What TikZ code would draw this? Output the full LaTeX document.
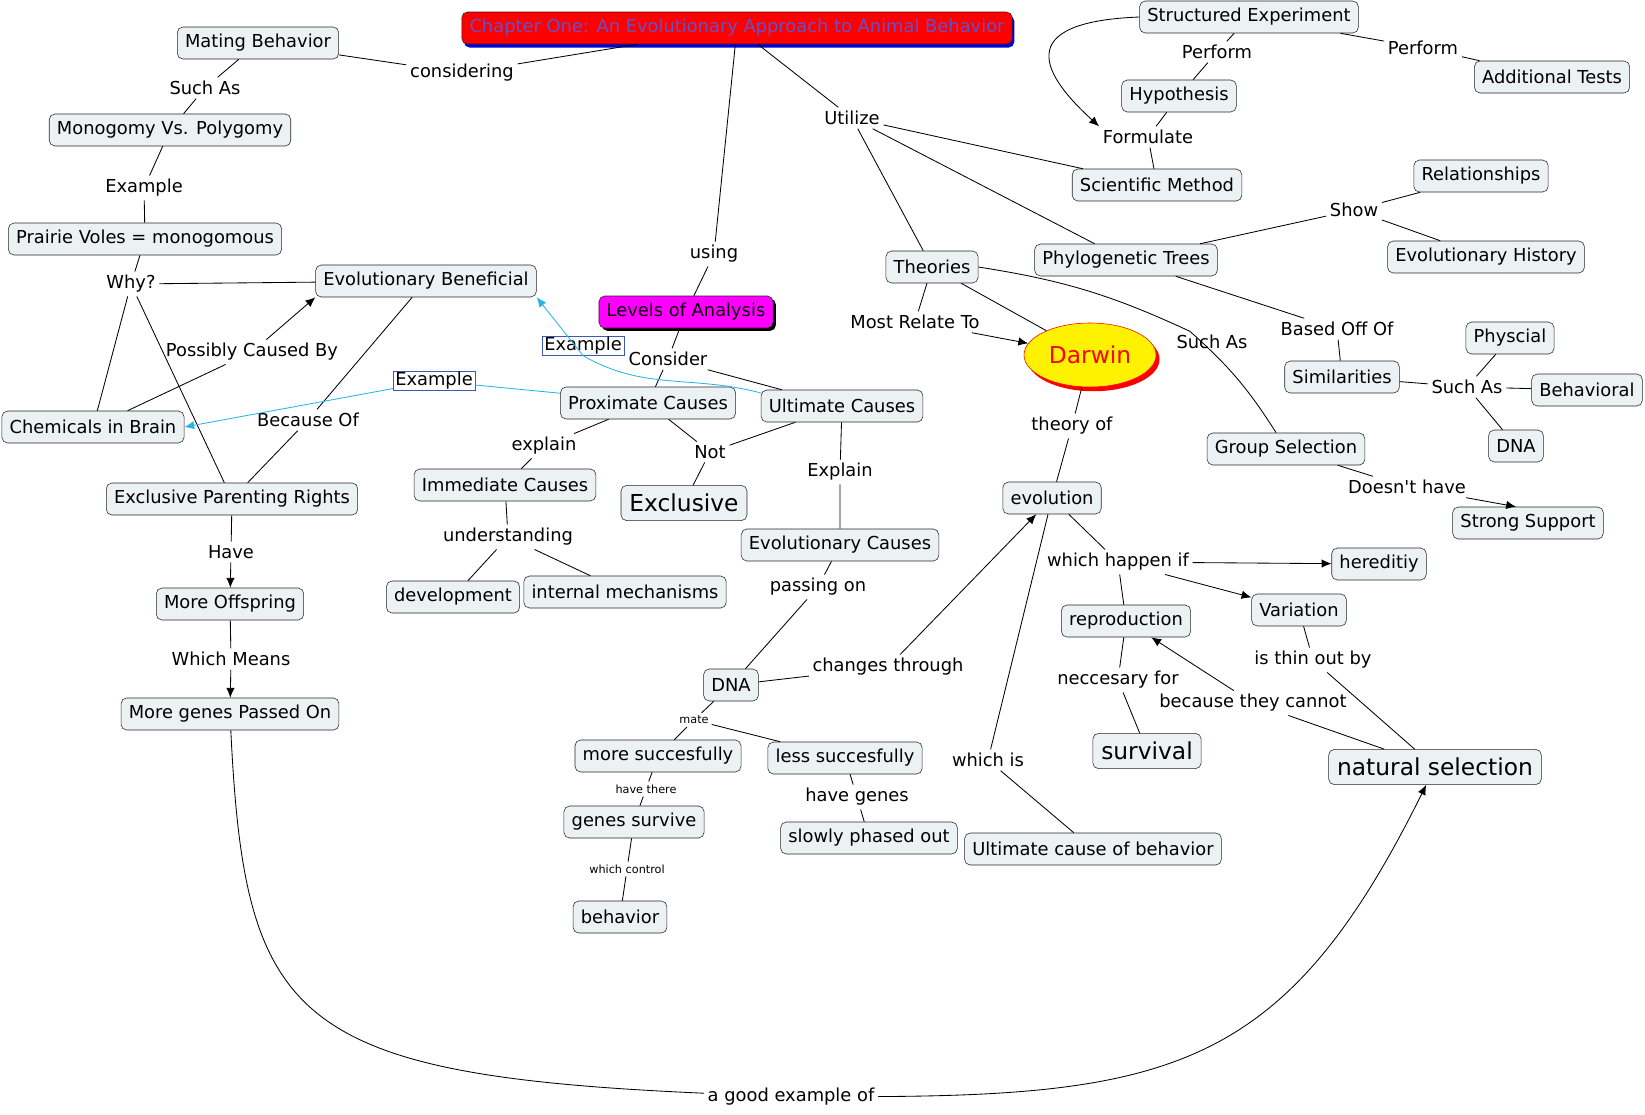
\documentclass[tikz,border=0pt]{standalone}
\usepackage{fontspec}
\setmainfont{DejaVu Sans}
\usetikzlibrary{arrows.meta, positioning, shapes.geometric, shadows, calc}
\definecolor{boxfill}{RGB}{236,242,244}
\definecolor{titletext}{RGB}{104,80,200}
\definecolor{levelfill}{RGB}{255,0,255}
\definecolor{exblue}{RGB}{60,90,180}
\definecolor{excyan}{RGB}{40,180,230}
\tikzset{
    cbox/.style={rectangle, draw=black!85, rounded corners=4pt, fill=boxfill, inner xsep=5.5pt, inner ysep=2pt, minimum height=0.8cm, font=\fontsize{12.7}{15}\selectfont},
    bigbox/.style={cbox, minimum height=0.88cm, inner xsep=6pt, font=\fontsize{16.6}{19}\selectfont},
    lword/.style={inner sep=2.5pt, font=\fontsize{12.7}{15}\selectfont},
    sword/.style={inner sep=2pt, font=\fontsize{8}{10}\selectfont},
    exbox/.style={rectangle, draw=exblue, fill=white, inner xsep=1.5pt, inner ysep=0.5pt, font=\fontsize{12.7}{15}\selectfont},
    cline/.style={draw=black, line width=0.6pt},
    arrow/.style={cline, -{Latex[length=7pt, width=6pt]}},
    exarrow/.style={draw=excyan, line width=0.6pt, -{Latex[length=7pt, width=6pt]}}
}
\begin{document}
\begin{tikzpicture}[x=0.025cm, y=-0.025cm]
\useasboundingbox (0,0) rectangle (1645,1114);

\node (title) [cbox, fill=red, text=titletext, drop shadow={shadow xshift=1.5pt, shadow yshift=-2.5pt, fill=blue!85!black, opacity=1}] at (737,28) {Chapter One: An Evolutionary Approach to Animal Behavior};
\node (levels) [cbox, fill=levelfill, drop shadow={shadow xshift=2pt, shadow yshift=-2pt, fill=black, opacity=1}] at (686,312) {Levels of Analysis};
\node (darwin) [ellipse, draw=red, fill=yellow, text=red, minimum width=3.3cm, minimum height=1.6cm, font=\fontsize{16.6}{19}\selectfont, drop shadow={shadow xshift=2.5pt, shadow yshift=-3pt, fill=red, opacity=1}] at (1090,355) {Darwin};

\node (matb) [cbox] at (258,43) {Mating Behavior};
\node (mono) [cbox] at (170,130) {Monogomy Vs. Polygomy};
\node (voles) [cbox] at (145,239) {Prairie Voles = monogomous};
\node (evoben) [cbox] at (426,281) {Evolutionary Beneficial};
\node (chem) [cbox] at (93,427) {Chemicals in Brain};
\node (excpar) [cbox] at (232,499) {Exclusive Parenting Rights};
\node (moreoff) [cbox] at (230,604) {More Offspring};
\node (moregen) [cbox] at (230,714) {More genes Passed On};
\node (immc) [cbox] at (505,485) {Immediate Causes};
\node (devel) [cbox] at (453,597) {development};
\node (intmech) [cbox] at (625,592) {internal mechanisms};
\node (proxc) [cbox] at (648,403) {Proximate Causes};
\node (ultc) [cbox] at (842,406) {Ultimate Causes};
\node (exclus) [bigbox] at (684,503) {Exclusive};
\node (evoc) [cbox] at (840,545) {Evolutionary Causes};
\node (dnaL) [cbox] at (731,685) {DNA};
\node (moresuc) [cbox] at (658,756) {more succesfully};
\node (lesssuc) [cbox] at (845,758) {less succesfully};
\node (genesurv) [cbox] at (634,822) {genes survive};
\node (slowph) [cbox] at (869,838) {slowly phased out};
\node (behav) [cbox] at (620,917) {behavior};
\node (ultbeh) [cbox] at (1093,849) {Ultimate cause of behavior};
\node (theories) [cbox] at (932,267) {Theories};
\node (evol) [cbox] at (1052,498) {evolution};
\node (repro) [cbox] at (1126,621) {reproduction};
\node (variat) [cbox] at (1299,610) {Variation};
\node (hered) [cbox] at (1379,564) {hereditiy};
\node (surv) [bigbox] at (1147,751) {survival};
\node (natsel) [bigbox] at (1435,767) {natural selection};
\node (sexp) [cbox] at (1249,17) {Structured Experiment};
\node (addt) [cbox] at (1552,77) {Additional Tests};
\node (hypo) [cbox] at (1179,96) {Hypothesis};
\node (scim) [cbox] at (1157,185) {Scientific Method};
\node (relat) [cbox] at (1481,176) {Relationships};
\node (evohist) [cbox] at (1486,257) {Evolutionary History};
\node (phylo) [cbox] at (1126,260) {Phylogenetic Trees};
\node (simil) [cbox] at (1342,377) {Similarities};
\node (phys) [cbox] at (1510,338) {Physcial};
\node (behavr) [cbox] at (1587,390) {Behavioral};
\node (dnaR) [cbox] at (1516,446) {DNA};
\node (grpsel) [cbox] at (1286,449) {Group Selection};
\node (strsup) [cbox] at (1528,523) {Strong Support};

\node (ex1) [exbox] at (434,381) {Example};
\node (ex2) [exbox] at (583,346) {Example};

\node (lconsid) [lword] at (462,73) {considering};
\node (lsuch1) [lword] at (205,88) {Such As};
\node (lexam) [lword] at (144,188) {Example};
\node (lwhy) [lword] at (131,284) {Why?};
\node (lposs) [lword] at (252,352) {Possibly Caused By};
\node (lbecause) [lword] at (308,420) {Because Of};
\node (lhave) [lword] at (231,552) {Have};
\node (lmeans) [lword] at (231,659) {Which Means};
\node (lexpl) [lword] at (544,446) {explain};
\node (lunder) [lword] at (508,537) {understanding};
\node (lusing) [lword] at (714,254) {using};
\node (lconsider) [lword] at (668,359) {Consider};
\node (lnot) [lword] at (710,452) {Not};
\node (lExplain) [lword] at (840,472) {Explain};
\node (lpass) [lword] at (818,587) {passing on};
\node (lchanges) [lword] at (888,667) {changes through};
\node (lhavegenes) [lword] at (857,797) {have genes};
\node (lwhichis) [lword] at (988,760) {which is};
\node (lgood) [lword] at (791,1097) {a good example of};
\node (lutil) [lword] at (852,118) {Utilize};
\node (lmost) [lword] at (915,322) {Most Relate To};
\node (lsuch2) [lword] at (1212,342) {Such As};
\node (ltheory) [lword] at (1072,426) {theory of};
\node (lhappen) [lword] at (1118,562) {which happen if};
\node (lneccs) [lword] at (1118,680) {neccesary for};
\node (lthin) [lword] at (1313,660) {is thin out by};
\node (lbecause2) [lword] at (1253,703) {because they cannot};
\node (lperf1) [lword] at (1217,52) {Perform};
\node (lperf2) [lword] at (1423,48) {Perform};
\node (lform) [lword] at (1148,137) {Formulate};
\node (lshow) [lword] at (1354,210) {Show};
\node (lbased) [lword] at (1337,329) {Based Off Of};
\node (lsuch3) [lword] at (1467,387) {Such As};
\node (ldoesnt) [lword] at (1407,487) {Doesn\textquotesingle t have};
\node (lmate) [sword] at (694,720) {mate};
\node (lhavethere) [sword] at (646,789) {have there};
\node (lwhichctl) [sword] at (627,869) {which control};

\draw [cline] (title) -- (lconsid) -- (matb);
\draw [cline] (matb) -- (lsuch1) -- (mono);
\draw [cline] (mono) -- (lexam) -- (voles);
\draw [cline] (voles) -- (lwhy) -- (evoben);
\draw [cline] (lwhy) -- (chem);
\draw [cline] (lwhy) -- (excpar);
\draw [cline] (evoben) -- (lbecause) -- (excpar);
\draw [cline] (chem) -- (lposs);
\draw [arrow] (lposs) -- (evoben.south west);
\draw [cline] (excpar) -- (lhave);
\draw [arrow] (lhave) -- (moreoff);
\draw [cline] (moreoff) -- (lmeans);
\draw [arrow] (lmeans) -- (moregen);
\draw [arrow] (moregen) .. controls (245,1020) and (290,1075) .. (lgood) .. controls (1180,1095) and (1290,1060) .. (natsel);

\draw [cline] (title) -- (lusing) -- (levels);
\draw [cline] (levels) -- (lconsider) -- (proxc);
\draw [cline] (lconsider) -- (ultc);
\draw [cline] (proxc) -- (lexpl) -- (immc);
\draw [cline] (immc) -- (lunder) -- (devel);
\draw [cline] (lunder) -- (intmech);
\draw [cline] (proxc) -- (lnot) -- (exclus);
\draw [cline] (ultc) -- (lnot);
\draw [cline] (ultc) -- (lExplain) -- (evoc);
\draw [cline] (evoc) -- (lpass) -- (dnaL) -- (lchanges);
\draw [arrow] (lchanges) -- (evol);
\draw [cline] (dnaL) -- (lmate) -- (moresuc);
\draw [cline] (lmate) -- (lesssuc);
\draw [cline] (moresuc) -- (lhavethere) -- (genesurv) -- (lwhichctl) -- (behav);
\draw [cline] (lesssuc) -- (lhavegenes) -- (slowph);
\draw [exarrow] ($(proxc.west)!.6!(proxc.north west)$) -- (ex1) -- (chem.east);
\draw [exarrow] ($(ultc.west)!.8!(ultc.north west)$) to[out=165, in=-30] (ex2.south) -- (evoben.south east);

\draw [cline] (title) -- (lutil) -- (scim);
\draw [cline] (lutil) -- (phylo);
\draw [cline] (lutil) -- (theories);
\draw [cline] (sexp) -- (lperf1) -- (hypo) -- (lform) -- (scim);
\draw [cline] (sexp) -- (lperf2) -- (addt);
\draw [arrow] (sexp.west) .. controls +(-130,5) and +(-55,-50) .. (lform.north west);
\draw [cline] (phylo) -- (lshow) -- (relat);
\draw [cline] (lshow) -- (evohist);
\draw [cline] (phylo) -- (lbased) -- (simil) -- (lsuch3) -- (phys);
\draw [cline] (lsuch3) -- (behavr);
\draw [cline] (lsuch3) -- (dnaR);
\draw [cline] (theories) -- (lmost);
\draw [arrow] (lmost) -- (darwin);
\draw [cline] (theories) -- (darwin);
\draw [cline] (theories.east) to[bend left=8] (lsuch2) to[bend left=8] (grpsel);
\draw [cline] (grpsel) -- (ldoesnt);
\draw [arrow] (ldoesnt) -- ([xshift=-0.3cm]strsup.north);

\draw [cline] (darwin) -- (ltheory) -- (evol) -- (lhappen) -- (repro) -- (lneccs) -- (surv);
\draw [arrow] (lhappen) -- (hered);
\draw [arrow] (lhappen) -- (variat);
\draw [cline] (evol) -- (lwhichis) -- (ultbeh);
\draw [cline] (variat) -- (lthin) -- (natsel) -- (lbecause2);
\draw [arrow] (lbecause2) -- (repro);
\end{tikzpicture}
\end{document}
